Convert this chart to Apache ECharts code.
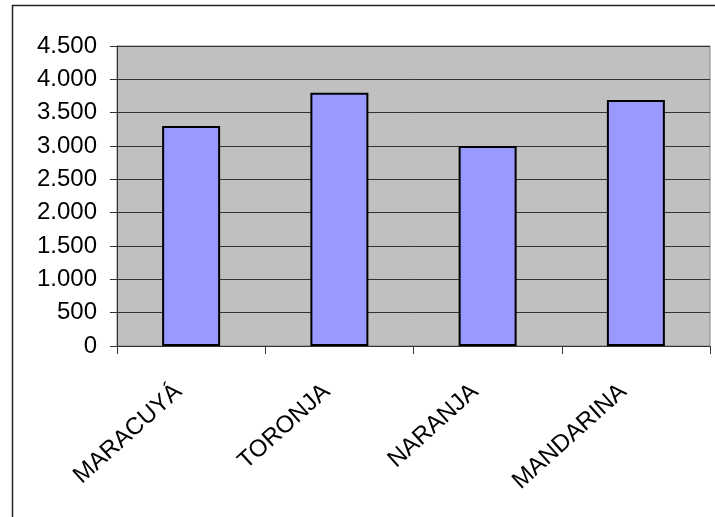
<!DOCTYPE html>
<html>
<head>
<meta charset="utf-8">
<script src="https://cdn.jsdelivr.net/npm/echarts@6/dist/echarts.min.js"></script>
<style>
  html, body { margin: 0; padding: 0; background: #fff; }
  #main { width: 715px; height: 517px; }
</style>
</head>
<body>
<div id="main"></div>
<script>
// datos
var frutas = ['MARACUYÁ', 'TORONJA', 'NARANJA', 'MANDARINA'];
var valores = [3300, 3800, 3000, 3690];

var myChart = echarts.init(document.getElementById('main'));

// formato con punto de miles
function miles(v) {
    return String(v).replace(/\B(?=(\d{3})+(?!\d))/g, '.');
}

var option = {
    backgroundColor: '#fff',
    animation: false,
    graphic: [{
        type: 'rect',
        shape: { x: 12.5, y: 5.5, width: 720, height: 530 },
        style: { fill: 'none', stroke: '#222', lineWidth: 1.5 },
        silent: true
    }],
    grid: {
        left: 117,
        right: 5,
        top: 46,
        bottom: 171,
        show: true,
        backgroundColor: '#C0C0C0',
        borderColor: '#808080',
        borderWidth: 1
    },
    xAxis: {
        type: 'category',
        data: frutas,
        boundaryGap: true,
        axisLine: { lineStyle: { color: '#333', width: 1 } },
        axisTick: { show: true, length: 8, lineStyle: { color: '#333' } },
        axisLabel: {
            rotate: 42,
            margin: 31,
            padding: [0, 17, 0, 0],
            fontFamily: 'Liberation Sans, Arial, sans-serif',
            fontSize: 24,
            color: '#000'
        }
    },
    yAxis: {
        type: 'value',
        min: 0,
        max: 4500,
        interval: 500,
        axisLine: { show: true, lineStyle: { color: '#333', width: 1 } },
        axisTick: { show: true, length: 7, lineStyle: { color: '#333' } },
        splitLine: { lineStyle: { color: '#333', width: 1 } },
        axisLabel: {
            margin: 20,
            fontFamily: 'Liberation Sans, Arial, sans-serif',
            fontSize: 24,
            color: '#000',
            formatter: miles
        }
    },
    series: [{
        type: 'bar',
        data: valores,
        barWidth: 58,
        itemStyle: {
            color: '#9999FF',
            borderColor: '#000',
            borderWidth: 2
        }
    }]
};

myChart.setOption(option);
</script>
</body>
</html>
